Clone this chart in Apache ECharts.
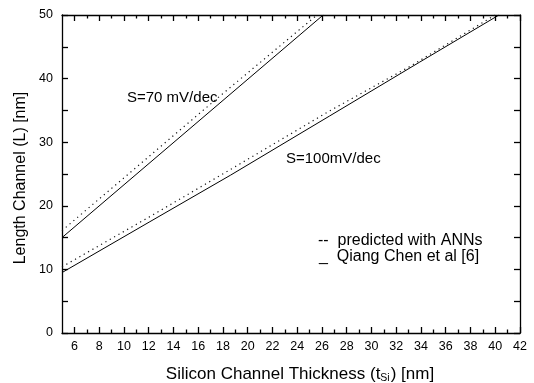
<!DOCTYPE html>
<html>
<head>
<meta charset="utf-8">
<script src="https://cdn.jsdelivr.net/npm/echarts@6/dist/echarts.min.js"></script>
<style>
  html, body { margin: 0; padding: 0; background: #fff; }
  #chart { width: 534px; height: 383px; }
</style>
</head>
<body>
<div id="chart"></div>
<script>
// Channel length vs. silicon thickness for two subthreshold-swing targets
const xMajorTicks = [6, 8, 10, 12, 14, 16, 18, 20, 22, 24, 26, 28, 30, 32, 34, 36, 38, 40, 42];
const xMinorTicks = [7, 9, 11, 13, 15, 17, 19, 21, 23, 25, 27, 29, 31, 33, 35, 37, 39, 41];

// S = 70 mV/dec
const s70Reference = [[5, 15.0], [17.6, 35.9], [26.1, 50]];
const s70Predicted = [[5, 16.1], [17.6, 37.0], [25.6, 50]];

// S = 100 mV/dec
const s100Reference = [[5, 9.5], [12.1, 17.5], [18.6, 24.8], [26.6, 34.1], [33.9, 42.6], [40.3, 50]];
const s100Predicted = [[5, 10.4], [12.1, 18.3], [18.6, 25.7], [26.6, 34.9], [33.1, 41.9], [40.0, 50]];

const FONT = '"Liberation Sans", Arial, sans-serif';
const INK = '#000';

function xAxisDef(position, ticks, len, withLabels, withLine) {
  return {
    type: 'value', min: 5, max: 42, position: position,
    axisLine: { show: withLine, lineStyle: { color: INK, width: 1.3 } },
    axisTick: { show: true, inside: true, length: len, customValues: ticks, lineStyle: { color: INK, width: 1.3 } },
    axisLabel: withLabels
      ? { show: true, customValues: ticks, color: INK, fontFamily: FONT, fontSize: 12.5, margin: 7 }
      : { show: false },
    splitLine: { show: false }
  };
}

function yAxisDef(position, withLabels) {
  return {
    type: 'value', min: 0, max: 50, interval: 10, position: position,
    axisLine: { show: true, lineStyle: { color: INK, width: 1.3 } },
    axisTick: { show: true, inside: true, length: 6, lineStyle: { color: INK, width: 1.3 } },
    minorTick: { show: true, splitNumber: 2, length: 6, lineStyle: { color: INK, width: 1.3 } },
    axisLabel: withLabels
      ? { show: true, color: INK, fontFamily: FONT, fontSize: 12.5, margin: 9 }
      : { show: false },
    splitLine: { show: false }
  };
}

const bottomMajor = xAxisDef('bottom', xMajorTicks, 6, true, true);
bottomMajor.name = 'Silicon Channel Thickness (t{sub|Si}) [nm]';
bottomMajor.nameLocation = 'middle';
bottomMajor.nameGap = 31;
bottomMajor.nameTextStyle = {
  color: INK, fontFamily: FONT, fontSize: 17, padding: [0, 0, 0, 18],
  rich: { sub: { fontFamily: FONT, fontSize: 10.5, color: INK, padding: [9, 1, 0, 0] } }
};

const leftAxis = yAxisDef('left', true);
leftAxis.name = 'Length Channel (L) [nm]';
leftAxis.nameLocation = 'middle';
leftAxis.nameGap = 29;
leftAxis.nameTextStyle = { color: INK, fontFamily: FONT, fontSize: 16, padding: [0, 8, 0, 0] };

function solid(data) {
  return {
    type: 'line', data: data, xAxisIndex: 0, yAxisIndex: 0,
    showSymbol: false, silent: true,
    lineStyle: { color: INK, width: 1 }
  };
}
function dotted(data) {
  return {
    type: 'line', data: data, xAxisIndex: 0, yAxisIndex: 0,
    showSymbol: false, silent: true,
    lineStyle: { color: '#111', width: 1.2, type: [1.2, 3.8] }
  };
}

const textStyle = (txt, x, y, size) => ({
  type: 'text', x: x, y: y, silent: true,
  style: { text: txt, fill: INK, font: size + 'px ' + FONT, verticalAlign: 'middle', align: 'left' }
});

const chart = echarts.init(document.getElementById('chart'), null, { renderer: 'canvas' });
chart.setOption({
  backgroundColor: '#fff',
  animation: false,
  grid: { left: 62, right: 14, top: 15, bottom: 50, containLabel: false, outerBoundsMode: 'none' },
  xAxis: [
    bottomMajor,
    xAxisDef('bottom', xMinorTicks, 3.5, false, false),
    xAxisDef('top', xMajorTicks, 6, false, true),
    xAxisDef('top', xMinorTicks, 3.5, false, false)
  ],
  yAxis: [leftAxis, yAxisDef('right', false)],
  series: [
    solid(s70Reference),
    dotted(s70Predicted),
    solid(s100Reference),
    dotted(s100Predicted)
  ],
  graphic: [
    textStyle('S=70 mV/dec', 127, 97.5, 15),
    textStyle('S=100mV/dec', 286, 159, 15),
    textStyle('--  predicted with ANNs', 318, 241, 16),
    textStyle('_  Qiang Chen et al [6]', 319, 257, 16)
  ]
});
</script>
</body>
</html>
